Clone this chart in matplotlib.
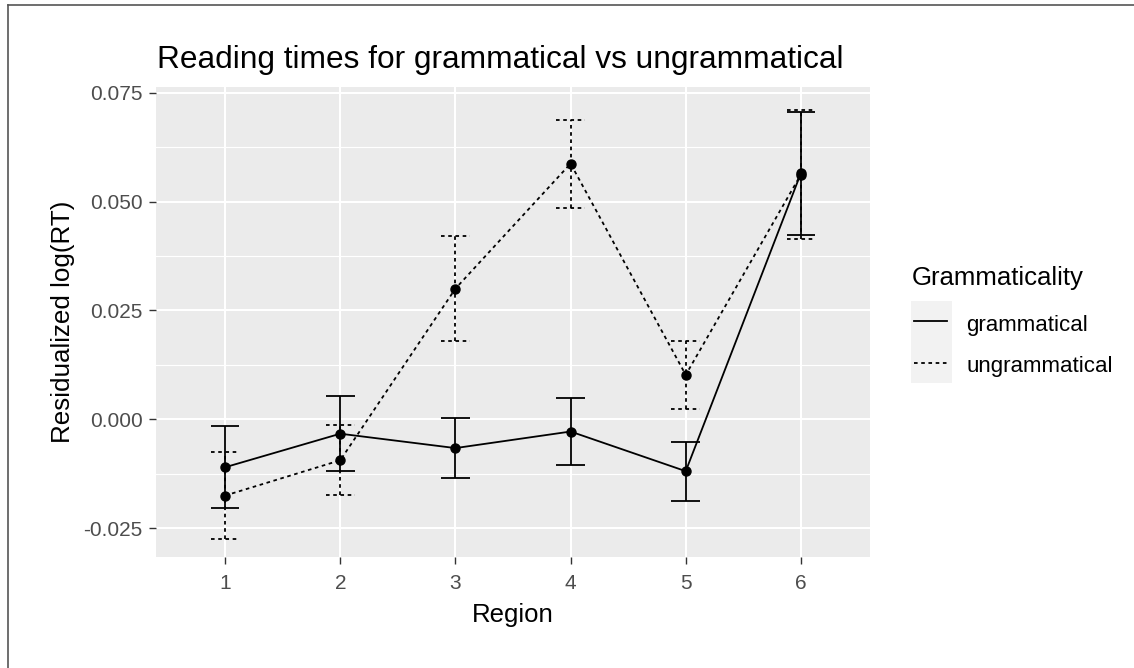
import matplotlib.pyplot as plt
from matplotlib.lines import Line2D
from matplotlib.patches import Rectangle
import numpy as np

plt.rcParams['font.family'] = ['Liberation Sans', 'DejaVu Sans']

regions = [1, 2, 3, 4, 5, 6]
groups = ["grammatical", "ungrammatical"]

# mean residualized log(RT) and standard error per region
gram_mean = [-0.0110, -0.0033, -0.0066, -0.0028, -0.0119, 0.0565]
gram_se = [0.0094, 0.0086, 0.0069, 0.0076, 0.0068, 0.0141]
ungram_mean = [-0.0175, -0.0094, 0.0300, 0.0587, 0.0102, 0.0562]
ungram_se = [0.0100, 0.0080, 0.0121, 0.0101, 0.0078, 0.0149]

W, H = 1134, 668
fig = plt.figure(figsize=(W / 100, H / 100), dpi=100)
ax = fig.add_axes([156 / W, 1 - 557 / H, (870 - 156) / W, (557 - 86.5) / H])

ax.set_facecolor('#EBEBEB')
for s in ax.spines.values():
    s.set_visible(False)

x = np.array(regions, dtype=float)
dash = (2, 2)
series = {
    "grammatical": (np.array(gram_mean), np.array(gram_se), None),
    "ungrammatical": (np.array(ungram_mean), np.array(ungram_se), dash),
}
lw = 1.3
cap = 0.125
for g in groups:
    m, se, d = series[g]
    kw = dict(color='black', linewidth=lw, zorder=3)
    segs = [ax.vlines(x, m - se, m + se, **kw),
            ax.hlines(m + se, x - cap, x + cap, **kw),
            ax.hlines(m - se, x - cap, x + cap, **kw)]
    line, = ax.plot(x, m, color='black', linewidth=lw, zorder=3)
    if d:
        for c in segs:
            c.set_linestyle((0, d))
        line.set_dashes(d)
    ax.plot(x, m, 'o', color='black', markersize=6.5, zorder=4)

ax.set_xlim(0.4, 6.6)
ax.set_ylim(-0.0316, 0.0764)
ax.set_xticks(regions)
ax.set_xticklabels([str(r) for r in regions])
yt = [-0.025, 0.0, 0.025, 0.05, 0.075]
ax.set_yticks(yt)
ax.set_yticklabels([f"{v:.3f}" for v in yt])
ax.set_yticks([-0.0125, 0.0125, 0.0375, 0.0625], minor=True)

ax.grid(True, which='major', color='white', linewidth=1.5)
ax.grid(True, which='minor', axis='y', color='white', linewidth=0.8)
ax.set_axisbelow(True)

ax.tick_params(axis='both', which='major', length=5, width=1.0, color='#333333',
               labelsize=15, labelcolor='#4D4D4D')
ax.tick_params(axis='x', pad=7.5)
ax.tick_params(axis='y', pad=4.5)
ax.tick_params(axis='y', which='minor', length=0)

ax.set_xlabel("Region", fontsize=18.5, labelpad=7)
ax.set_ylabel("Residualized log(RT)", fontsize=18.7, labelpad=6)

fig.text(157 / W, 1 - 68 / H, "Reading times for grammatical vs ungrammatical",
         fontsize=22.8, ha='left', va='baseline')

# legend, drawn by hand in ggplot style
fig.text(912 / W, 1 - 285 / H, "Grammaticality", fontsize=18.5, ha='left', va='baseline')
fig.patches.append(Rectangle((911 / W, 1 - 383 / H), 41 / W, 82 / H,
                             transform=fig.transFigure, facecolor='#F2F2F2',
                             edgecolor='none'))
for i, g in enumerate(groups):
    yk = 1 - (321 + 41.5 * i) / H
    ln = Line2D([914 / W, 947 / W], [yk, yk], transform=fig.transFigure,
                color='black', linewidth=lw)
    if series[g][2]:
        ln.set_dashes(series[g][2])
    fig.lines.append(ln)
    fig.text(966 / W, yk - 4 / H, g, fontsize=16, ha='left', va='center', color='black')

# outer frame (left and top edges visible)
fig.lines.append(Line2D([8 / W, 8 / W], [0, 1 - 5 / H], transform=fig.transFigure,
                        color='#555555', linewidth=1.2))
fig.lines.append(Line2D([8 / W, 1], [1 - 5 / H, 1 - 5 / H], transform=fig.transFigure,
                        color='#555555', linewidth=1.2))

fig.savefig("out.png", dpi=100)
